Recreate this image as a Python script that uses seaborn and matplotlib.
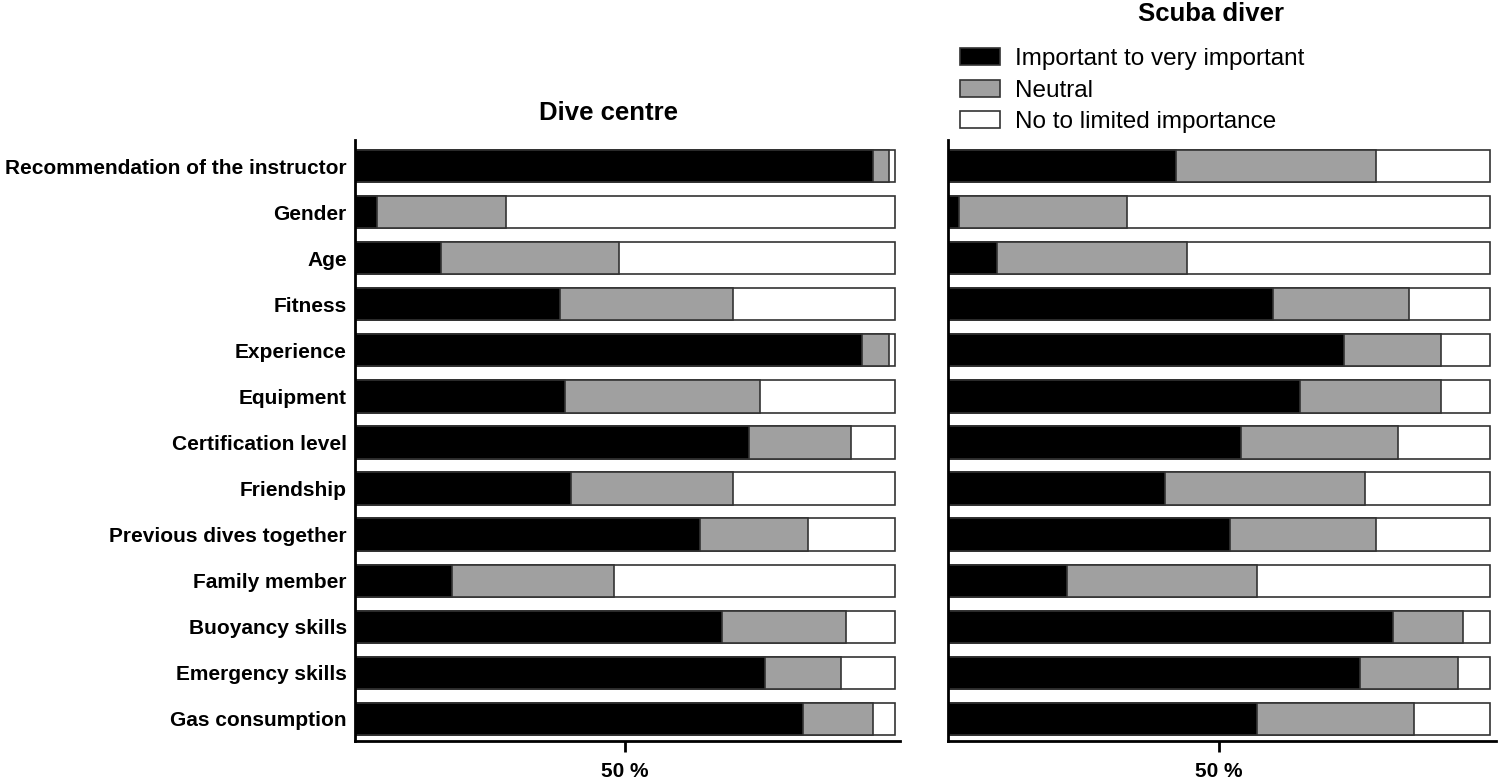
import numpy as np
import pandas as pd
import matplotlib
matplotlib.use("Agg")
import matplotlib.pyplot as plt
from matplotlib.patches import Patch
import seaborn as sns

categories = ["Recommendation of the instructor", "Gender", "Age", "Fitness", "Experience",
              "Equipment", "Certification level", "Friendship", "Previous dives together",
              "Family member", "Buoyancy skills", "Emergency skills", "Gas consumption"]

# percentages
centre_important = [96, 4, 16, 38, 94, 39, 73, 40, 64, 18, 68, 76, 83]
centre_neutral = [3, 24, 33, 32, 5, 36, 19, 30, 20, 30, 23, 14, 13]
centre_limited = [1, 72, 51, 30, 1, 25, 8, 30, 16, 52, 9, 10, 4]

diver_important = [42, 2, 9, 60, 73, 65, 54, 40, 52, 22, 82, 76, 57]
diver_neutral = [37, 31, 35, 25, 18, 26, 29, 37, 27, 35, 13, 18, 29]
diver_limited = [21, 67, 56, 15, 9, 9, 17, 23, 21, 43, 5, 6, 14]

legend_labels = ["Important to very important", "Neutral", "No to limited importance"]
colors = ["black", "#a0a0a0", "white"]

sns.set_theme(style="white")
plt.rcParams['font.family'] = ['Liberation Sans', 'DejaVu Sans']
plt.rcParams['text.color'] = 'black'
plt.rcParams['xtick.color'] = 'black'
plt.rcParams['ytick.color'] = 'black'

fig = plt.figure(figsize=(15, 7.8), dpi=100)
ax1 = fig.add_axes([0.2367, 0.05, 0.3633, 0.7705])
ax2 = fig.add_axes([0.632, 0.05, 0.365, 0.7705])


def stacked(ax, imp, neu, lim, show_labels):
    df = pd.DataFrame({"item": categories, "imp": imp, "neu": neu, "lim": lim})
    df["c2"] = df["imp"] + df["neu"]
    df["c3"] = df["c2"] + df["lim"]
    for col, colr in zip(["c3", "c2", "imp"], colors[::-1]):
        sns.barplot(data=df, x=col, y="item", orient="h", color=colr, saturation=1,
                    width=0.7, edgecolor="#333333", linewidth=1.2, ax=ax)
    ax.set_xlim(0, 101)
    ax.set_ylim(12.48, -0.565)
    ax.set_xticks([50])
    ax.set_xticklabels(["50 %"], fontsize=15, fontweight="bold")
    ax.set_xlabel("")
    ax.set_ylabel("")
    ax.tick_params(axis="x", length=8, width=2, color="black", bottom=True, pad=7)
    ax.tick_params(axis="y", length=0, pad=6)
    if show_labels:
        ax.set_yticks(range(len(categories)))
        ax.set_yticklabels(categories, fontsize=15, fontweight="bold")
    else:
        ax.set_yticklabels([])
    for side in ["top", "right"]:
        ax.spines[side].set_visible(False)
    for side in ["left", "bottom"]:
        ax.spines[side].set_color("black")
        ax.spines[side].set_linewidth(2)


stacked(ax1, centre_important, centre_neutral, centre_limited, True)
stacked(ax2, diver_important, diver_neutral, diver_limited, False)

fig.text(0.4057, 1 - 113 / 780, "Dive centre", ha="center", va="center",
         fontsize=18.5, fontweight="bold")
fig.text(0.807, 1 - 14 / 780, "Scuba diver", ha="center", va="center",
         fontsize=18.5, fontweight="bold")

handles = [Patch(facecolor=c, edgecolor="#333333", linewidth=1.2) for c in colors]
fig.legend(handles, legend_labels, loc="upper left", bbox_to_anchor=(0.64, 1 - 48 / 780),
           frameon=False, fontsize=17.5, handlelength=1.65, handleheight=0.7,
           labelspacing=0.4, handletextpad=0.6, borderaxespad=0, borderpad=0)

fig.savefig("out.png", dpi=100)
